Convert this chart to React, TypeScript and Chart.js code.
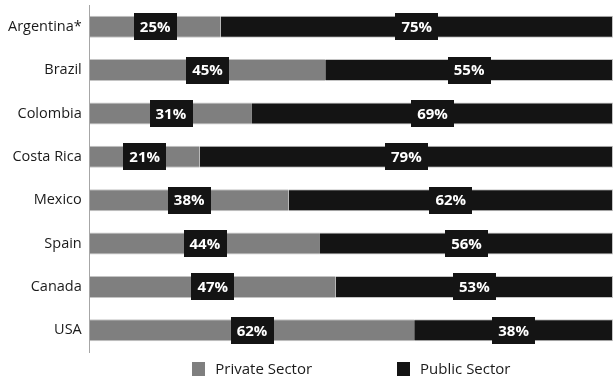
import React, { useEffect, useRef } from "react";
import { Chart, registerables } from "chart.js";

Chart.register(...registerables);

const categories = ["Argentina*", "Brazil", "Colombia", "Costa Rica", "Mexico", "Spain", "Canada", "USA"];
const privateSector = [25, 45, 31, 21, 38, 44, 47, 62];
const publicSector = [75, 55, 69, 79, 62, 56, 53, 38];
const seriesNames = ["Private Sector", "Public Sector"];
const seriesColors = ["#7f7f7f", "#141414"];

const FONT = "'Open Sans', sans-serif";

const labelPlugin = {
  id: "boxLabels",
  afterDatasetsDraw(chart: any) {
    const ctx = chart.ctx;
    ctx.save();
    ctx.font = `bold 15px ${FONT}`;
    ctx.textAlign = "center";
    ctx.textBaseline = "middle";
    chart.data.datasets.forEach((ds: any, di: number) => {
      const meta = chart.getDatasetMeta(di);
      meta.data.forEach((bar: any, i: number) => {
        const text = `${ds.data[i]}%`;
        const cx = (bar.x + bar.base) / 2;
        const cy = bar.y;
        const w = ctx.measureText(text).width + 12;
        const h = 27;
        ctx.fillStyle = "#141414";
        ctx.fillRect(Math.round(cx - w / 2), Math.round(cy - h / 2), Math.round(w), h);
        ctx.fillStyle = "#ffffff";
        ctx.fillText(text, cx, cy + 1);
      });
    });
    ctx.restore();
  },
};

const legendPlugin = {
  id: "customLegend",
  afterDraw(chart: any) {
    const ctx = chart.ctx;
    const area = chart.chartArea;
    ctx.save();
    ctx.font = `15px ${FONT}`;
    ctx.textBaseline = "middle";
    ctx.textAlign = "left";
    const box = 13;
    const textGap = 10;
    const itemGap = 85;
    const items = chart.data.datasets.map((ds: any) => ({
      text: ds.label,
      color: ds.backgroundColor,
      w: box + textGap + ctx.measureText(ds.label).width,
    }));
    const total = items.reduce((s: number, it: any) => s + it.w, 0) + itemGap * (items.length - 1);
    let x = (area.left + area.right) / 2 - total / 2;
    const y = 369;
    items.forEach((it: any) => {
      ctx.fillStyle = it.color;
      ctx.fillRect(Math.round(x), y - 7, box, 14);
      ctx.fillStyle = "#1a1a1a";
      ctx.fillText(it.text, x + box + textGap, y + 1);
      x += it.w + itemGap;
    });
    ctx.restore();
  },
};

export default function App() {
  const ref = useRef<HTMLCanvasElement>(null);
  useEffect(() => {
    const chart = new Chart(ref.current!, {
      type: "bar",
      data: {
        labels: categories,
        datasets: [
          {
            label: seriesNames[0],
            data: privateSector,
            backgroundColor: seriesColors[0],
            borderColor: "#c4c4c4",
            borderWidth: { top: 1, bottom: 1, left: 0, right: 0 },
            borderSkipped: false,
            barPercentage: 0.51,
            categoryPercentage: 1,
          },
          {
            label: seriesNames[1],
            data: publicSector,
            backgroundColor: seriesColors[1],
            borderColor: "#c4c4c4",
            borderWidth: { top: 1, bottom: 1, left: 0, right: 1 },
            borderSkipped: false,
            barPercentage: 0.51,
            categoryPercentage: 1,
          },
        ],
      },
      plugins: [labelPlugin, legendPlugin],
      options: {
        indexAxis: "y",
        animation: false,
        responsive: false,
        maintainAspectRatio: false,
        layout: { padding: { top: 5, right: 1, bottom: 27, left: 0 } },
        plugins: {
          legend: { display: false },
          tooltip: { enabled: false },
        },
        scales: {
          x: {
            stacked: true,
            display: false,
            min: 0,
            max: 100,
          },
          y: {
            stacked: true,
            grid: { display: false, drawTicks: false },
            border: { display: true, color: "#a6a6a6", width: 1 },
            ticks: {
              padding: 8,
              color: "#1a1a1a",
              font: { family: FONT, size: 14.5 },
            },
            afterFit(scale: any) {
              scale.paddingTop = 0;
              scale.paddingBottom = 0;
            },
          },
        },
      },
    } as any);
    return () => chart.destroy();
  }, []);
  return (
    <div style={{ position: "fixed", left: 0, top: 0, width: 614, height: 379, background: "#fff" }}>
      <canvas ref={ref} width={614} height={379} style={{ width: 614, height: 379 }} />
    </div>
  );
}
